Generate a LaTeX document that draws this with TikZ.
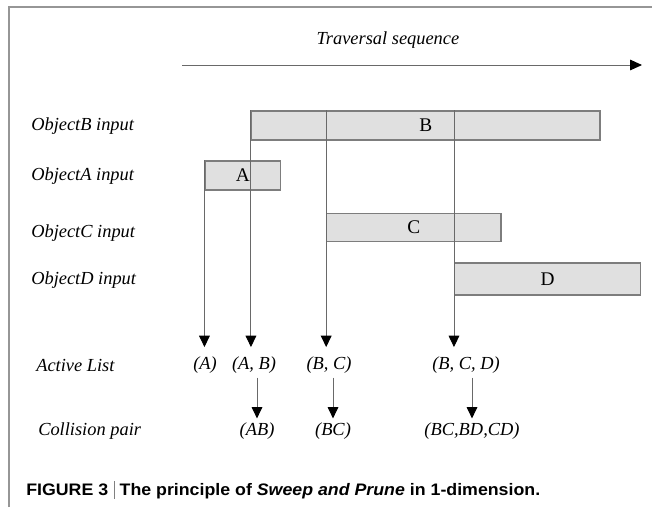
\documentclass[tikz,border=0pt]{standalone}
\usepackage{fontspec}
\setmainfont{Liberation Serif}
\newfontfamily\capfont[FakeStretch=1.066]{Liberation Sans}
\usetikzlibrary{arrows.meta}
\definecolor{boxfill}{RGB}{224,224,224}
\definecolor{boxline}{RGB}{125,125,125}
\definecolor{connc}{RGB}{105,105,105}
\definecolor{framec}{RGB}{150,150,150}
\begin{document}
\begin{tikzpicture}[x=0.75pt,y=-0.75pt,
  objbox/.style={draw=boxline, fill=boxfill, line width=0.8pt, inner sep=0pt,
    font=\fontsize{14.5}{16}\selectfont},
  rowlbl/.style={font=\fontsize{13.8}{16}\selectfont\itshape, anchor=west, inner sep=0pt},
  lst/.style={font=\fontsize{13.8}{16}\selectfont\itshape, inner sep=1pt},
  conn/.style={draw=connc, line width=0.7pt, -{Triangle[length=8.5pt,width=8pt,color=black]}}]
\useasboundingbox (0,0) rectangle (652,507);
% frame
\draw[framec, line width=1.2pt] (9,507) -- (9,7) -- (652,7);
% traversal
\node[font=\fontsize{13.8}{16}\selectfont\itshape] (trav) at (388,40) {Traversal sequence};
\coordinate (ts) at (182,65);
\coordinate (te) at (642,65);
\draw[connc, line width=0.7pt, -{Triangle[length=9pt,width=8pt,color=black]}] (ts) -- (te);
% row labels
\node[rowlbl] (rB) at (31,126) {ObjectB input};
\node[rowlbl] (rA) at (31,176) {ObjectA input};
\node[rowlbl] (rC) at (31,233) {ObjectC input};
\node[rowlbl] (rD) at (31,280) {ObjectD input};
\node[rowlbl] (rL) at (36,365) {Active List};
\node[rowlbl] (rP) at (38,431) {Collision pair};
% boxes
\node[objbox, minimum width=261.4pt, minimum height=21.75pt] (B) at (425.75,125.5) {B};
\node[objbox, minimum width=56.8pt, minimum height=21.75pt] (A) at (242.85,175.5) {A};
\node[objbox, minimum width=130.7pt, minimum height=21.5pt] (C) at (413.85,227.6) {C};
\node[objbox, minimum width=139.65pt, minimum height=24pt] (D) at (547.6,279) {D};
% active list
\node[lst] (lA) at (205,365) {(A)};
\node[lst] (lAB) at (254,365) {(A, B)};
\node[lst] (lBC) at (329,365) {(B, C)};
\node[lst] (lBCD) at (466,365) {(B, C, D)};
% collision pairs
\node[lst] (pAB) at (257,431) {(AB)};
\node[lst] (pBC) at (333,431) {(BC)};
\node[lst] (pBCD) at (472,431) {(BC,BD,CD)};
% sweep lines
\draw[conn, shorten >=6pt] (A.north west) -- (A.north west |- lA.north);
\draw[conn, shorten >=6pt] (B.north west) -- (B.north west |- lAB.north);
\draw[conn, shorten >=6pt] (B.north -| C.west) -- (C.west |- lBC.north);
\draw[conn, shorten >=6pt] (B.north -| D.west) -- (D.west |- lBCD.north);
% collision arrows
\draw[conn, shorten <=2pt, shorten >=2pt] (lAB.south -| pAB.north) -- (pAB.north);
\draw[conn, shorten <=2pt, shorten >=2pt] (lBC.south -| pBC.north) -- (pBC.north);
\draw[conn, shorten <=2pt, shorten >=2pt] (lBCD.south -| pBCD.north) -- (pBCD.north);
% caption
\node[anchor=west, inner sep=0pt, font=\capfont\bfseries\fontsize{12.5}{14}\selectfont] (cap) at (26,490)
  {FIGURE 3\hspace{4pt}{\color{gray}\rule[-2.5pt]{0.6pt}{13pt}}\hspace{4pt}The principle of \textit{Sweep and Prune} in 1-dimension.};
\end{tikzpicture}
\end{document}
